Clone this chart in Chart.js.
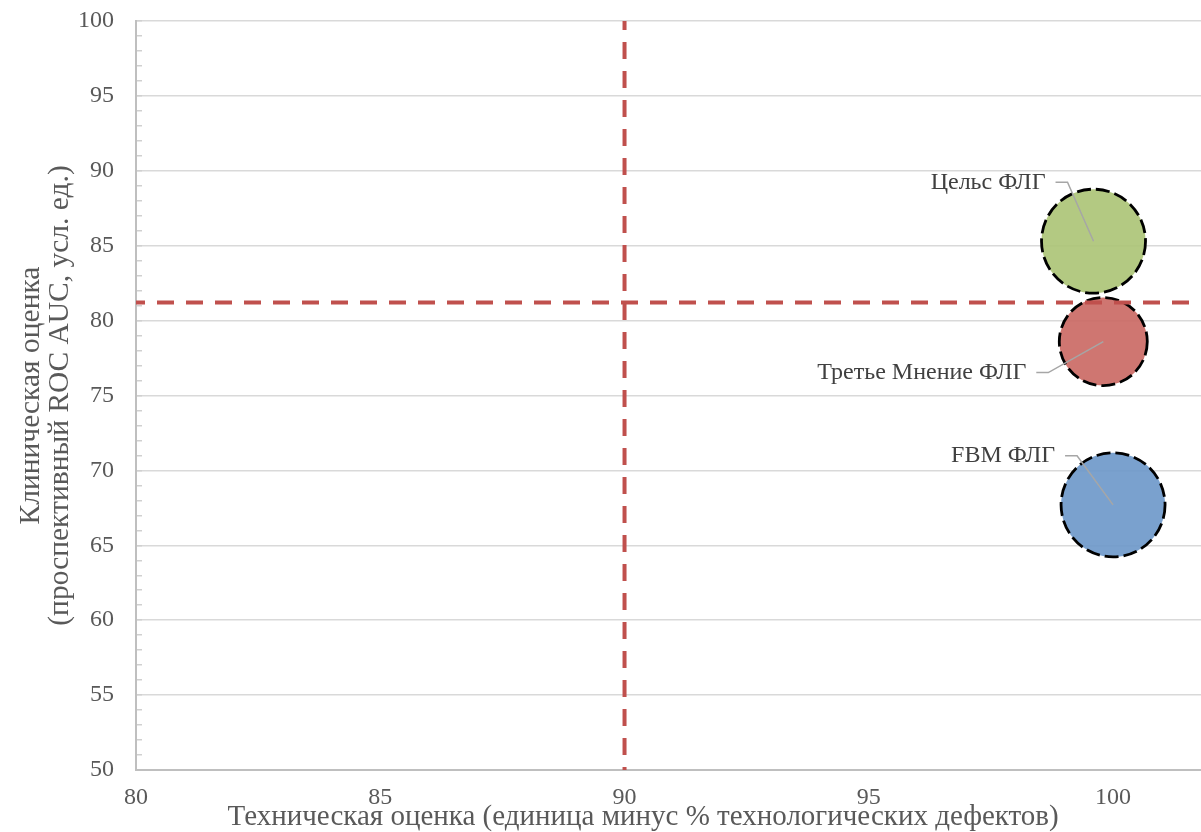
<!DOCTYPE html>
<html lang="ru">
<head>
<meta charset="utf-8">
<title>Техническая и клиническая оценка</title>
<script src="https://cdn.jsdelivr.net/npm/chart.js@4.4.1/dist/chart.umd.min.js"></script>
<style>
  html, body { margin: 0; padding: 0; background: #fff; overflow: hidden; }
  canvas { display: block; }
</style>
</head>
<body>
<canvas id="bubbleChart" width="1201" height="832"></canvas>
<script>
// ===================================
// DATA
// ===================================

const products = ['Цельс ФЛГ', 'Третье Мнение ФЛГ', 'FBM ФЛГ'];
const techScore = [99.6, 99.8, 100.0];      // x
const clinicalScore = [85.3, 78.6, 67.7];   // y
const bubbleRadius = [52, 44, 52];          // bubble size, px

const xTicks = [80, 85, 90, 95, 100];
const yTicks = [50, 55, 60, 65, 70, 75, 80, 85, 90, 95, 100];

const techThreshold = 90;
const clinicalThreshold = 81.2;

const xMin = 80, xMax = 101.8;
const yMin = 50, yMax = 100;

// ===================================
// STYLE
// ===================================

const FONT = "'Liberation Serif', 'Times New Roman', serif";
const TEXT = '#595959';
const bubbleColors = ['rgba(171, 195, 116, 0.9)', 'rgba(202, 103, 98, 0.9)', 'rgba(108, 151, 201, 0.9)'];
// where each label's right edge sits relative to its bubble centre
const labelOffsets = [[-48, -59], [-77, 31], [-58, -49]];

// dashed outline for the bubbles (point elements ignore borderDash)
const bubbleDash = {
    id: 'bubbleDash',
    beforeDatasetDraw(chart, args) {
        if (args.meta.type === 'bubble') chart.ctx.setLineDash([14, 5]);
    },
    afterDatasetDraw(chart) {
        chart.ctx.setLineDash([]);
    }
};

// data labels with leader lines
const bubbleLabels = {
    id: 'bubbleLabels',
    afterDatasetsDraw(chart) {
        const meta = chart.getDatasetMeta(0);
        const ctx = chart.ctx;
        ctx.save();
        meta.data.forEach((pt, i) => {
            const [dx, dy] = labelOffsets[i];
            const tx = pt.x + dx, ty = pt.y + dy;
            ctx.strokeStyle = '#a6a6a6';
            ctx.lineWidth = 1.5;
            ctx.beginPath();
            ctx.moveTo(tx + 10, ty);
            ctx.lineTo(tx + 22, ty);
            ctx.lineTo(pt.x, pt.y);
            ctx.stroke();
            ctx.fillStyle = '#404040';
            ctx.font = '24px ' + FONT;
            ctx.textAlign = 'right';
            ctx.textBaseline = 'middle';
            ctx.fillText(products[i], tx, ty);
        });
        ctx.restore();
    }
};

const thresholdStyle = {
    type: 'line',
    borderColor: '#c0504d',
    borderWidth: 4,
    borderDash: [17, 12],
    borderDashOffset: 8,
    pointRadius: 0,
    pointHoverRadius: 0,
    fill: false,
    order: 0
};

new Chart(document.getElementById('bubbleChart'), {
    type: 'bubble',
    data: {
        datasets: [
            {
                label: 'ФЛГ',
                data: products.map((p, i) => ({ x: techScore[i], y: clinicalScore[i], r: bubbleRadius[i] })),
                backgroundColor: bubbleColors,
                borderColor: '#000000',
                borderWidth: 2.8,
                hoverRadius: 0,
                clip: false,
                order: 1
            },
            Object.assign({
                label: 'Порог технической оценки',
                data: [{ x: techThreshold, y: yMax }, { x: techThreshold, y: yMin }]
            }, thresholdStyle),
            Object.assign({
                label: 'Порог клинической оценки',
                data: [{ x: xMin, y: clinicalThreshold }, { x: xMax, y: clinicalThreshold }]
            }, thresholdStyle)
        ]
    },
    options: {
        responsive: false,
        animation: false,
        events: [],
        layout: { autoPadding: false, padding: { top: 21, right: 0, bottom: 0, left: 0 } },
        plugins: {
            legend: { display: false },
            tooltip: { enabled: false }
        },
        scales: {
            x: {
                type: 'linear',
                min: xMin,
                max: xMax,
                afterBuildTicks: s => { s.ticks = xTicks.map(v => ({ value: v })); },
                afterFit: s => { s.height = 62; s.paddingLeft = 0; s.paddingRight = 0; },
                grid: { display: true, color: 'rgba(0,0,0,0)', drawTicks: false },
                border: { display: true, color: '#bfbfbf', width: 2 },
                ticks: {
                    color: TEXT,
                    padding: 13,
                    maxRotation: 0,
                    font: { family: FONT, size: 24 }
                },
                title: {
                    display: true,
                    text: 'Техническая оценка (единица минус % технологических дефектов)       ',
                    color: TEXT,
                    font: { family: FONT, size: 29, lineHeight: '30px' },
                    padding: { top: 0, bottom: 0 }
                }
            },
            y: {
                type: 'linear',
                min: yMin,
                max: yMax,
                afterFit: s => { s.width = 136; s.paddingTop = 0; s.paddingBottom = 0; },
                grid: {
                    color: c => (yTicks.includes(c.tick.value) ? '#d9d9d9' : 'rgba(0,0,0,0)'),
                    lineWidth: 1.5,
                    drawTicks: true,
                    tickLength: -6,
                    tickColor: '#d0d0d0',
                    tickWidth: 1.5
                },
                border: { display: true, color: '#bfbfbf', width: 2 },
                ticks: {
                    stepSize: 1,
                    autoSkip: false,
                    color: TEXT,
                    padding: 28,
                    font: { family: FONT, size: 24 },
                    callback: v => (yTicks.includes(v) ? v : '')
                },
                title: {
                    display: true,
                    text: ['Клиническая оценка', '(проспективный ROC AUC, усл. ед.)'],
                    color: TEXT,
                    font: { family: FONT, size: 29.5, lineHeight: '29px' },
                    padding: { top: 17, bottom: 0 }
                }
            }
        }
    },
    plugins: [bubbleDash, bubbleLabels]
});
</script>
</body>
</html>
